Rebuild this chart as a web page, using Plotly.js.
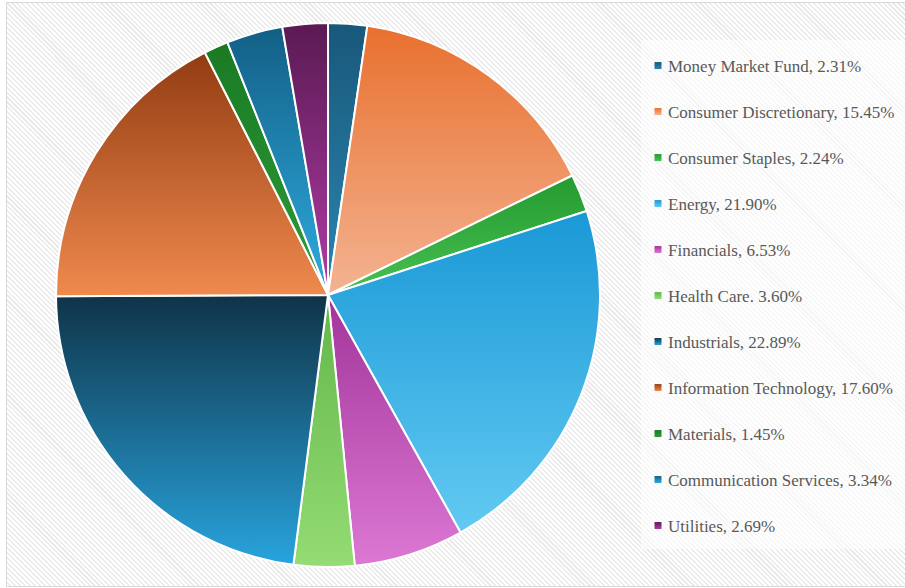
<!DOCTYPE html>
<html>
<head>
<meta charset="utf-8">
<script src="https://cdn.plot.ly/plotly-3.0.1.min.js"></script>
<style>
  html, body { margin: 0; padding: 0; background: #ffffff; }
  #frame {
    position: absolute; left: 0; top: 0; width: 905px; height: 588px;
    background: #ffffff;
  }
  #hatch {
    position: absolute; left: 6px; top: 2px; width: 899px; height: 583px;
    border-left: 1px solid #d9d9d9; border-top: 1px solid #d9d9d9; border-bottom: 1px solid #d9d9d9;
    background: repeating-linear-gradient(45deg, #ffffff 0px, #ffffff 2px, #ebebeb 2px, #ebebeb 3.5px);
  }
  #chart { position: absolute; left: 0; top: 0; width: 905px; height: 588px; }
</style>
</head>
<body>
<div id="frame"><div id="hatch"></div><div id="chart"></div></div>
<script>
const categories = ["Money Market Fund", "Consumer Discretionary", "Consumer Staples", "Energy",
  "Financials", "Health Care", "Industrials", "Information Technology", "Materials",
  "Communication Services", "Utilities"];
const values = [2.31, 15.45, 2.24, 21.90, 6.53, 3.60, 22.89, 17.60, 1.45, 3.34, 2.69];
const legendLabels = ["Money Market Fund, 2.31%", "Consumer Discretionary, 15.45%", "Consumer Staples, 2.24%",
  "Energy, 21.90%", "Financials, 6.53%", "Health Care. 3.60%", "Industrials, 22.89%",
  "Information Technology, 17.60%", "Materials, 1.45%", "Communication Services, 3.34%", "Utilities, 2.69%"];
const colorsTop = ["#18587a", "#e8702e", "#249a30", "#1a98d6", "#a2349a", "#62b64a", "#0f3347", "#923c12", "#1a7a24", "#135f86", "#5a1a52"];
const colorsBottom = ["#2c86b2", "#f4b392", "#48c052", "#62caf2", "#dc78d4", "#94dc74", "#28a4de", "#f08a4e", "#2e9c38", "#2eacdf", "#b03ca6"];
const colorsMid = ["#226f96", "#ee915f", "#36ad41", "#3eb1e4", "#c056b7", "#7bc95f", "#1c6c93", "#c16330", "#248b2e", "#2186b3", "#852b7c"];

const trace = {
  type: "pie",
  labels: legendLabels,
  values: values,
  customdata: categories,
  sort: false,
  direction: "clockwise",
  rotation: 0,
  textinfo: "none",
  hovertemplate: "%{customdata}: %{value}%<extra></extra>",
  marker: { colors: colorsMid, line: { color: "#ffffff", width: 2 } },
  domain: { x: [56 / 905, 600 / 905], y: [1 - 567 / 588, 1 - 23 / 588] }
};

const layout = {
  width: 905, height: 588,
  margin: { l: 0, r: 0, t: 0, b: 0, autoexpand: false },
  paper_bgcolor: "rgba(0,0,0,0)",
  plot_bgcolor: "rgba(0,0,0,0)",
  showlegend: true,
  legend: {
    x: 638 / 905, xanchor: "left",
    y: 1 - 48 / 588, yanchor: "top",
    bgcolor: "rgba(0,0,0,0)", borderwidth: 0,
    font: { family: "Liberation Serif, 'Times New Roman', serif", size: 17, color: "#595959" },
    traceorder: "normal"
  },
  shapes: [{
    type: "rect", xref: "paper", yref: "paper",
    x0: 641 / 905, x1: 1, y0: 1 - 549 / 588, y1: 1 - 40 / 588,
    fillcolor: "rgba(255,255,255,0.55)", line: { width: 0 }, layer: "below"
  }]
};

Plotly.newPlot("chart", [trace], layout, { displayModeBar: false, staticPlot: true }).then(function (gd) {
  const svg = gd.querySelector("svg.main-svg");
  const NS = "http://www.w3.org/2000/svg";
  const defs = document.createElementNS(NS, "defs");
  for (let i = 0; i < categories.length; i++) {
    const g = document.createElementNS(NS, "linearGradient");
    g.setAttribute("id", "sg" + i);
    g.setAttribute("x1", "0"); g.setAttribute("y1", "0");
    g.setAttribute("x2", "0"); g.setAttribute("y2", "1");
    const s1 = document.createElementNS(NS, "stop");
    s1.setAttribute("offset", "0"); s1.setAttribute("stop-color", colorsTop[i]);
    const s2 = document.createElementNS(NS, "stop");
    s2.setAttribute("offset", "1"); s2.setAttribute("stop-color", colorsBottom[i]);
    g.appendChild(s1); g.appendChild(s2);
    defs.appendChild(g);
  }
  svg.insertBefore(defs, svg.firstChild);

  gd.querySelectorAll(".slice path.surface").forEach(function (p, i) {
    p.style.fill = "url(#sg" + i + ")";
  });

  const legend = gd.querySelector(".legend");
  const scroll = legend.querySelector(".scrollbox");
  if (scroll) scroll.removeAttribute("clip-path");
  const items = legend.querySelectorAll(".traces");
  let x0 = 0, y0 = 0;
  if (items.length) {
    const m = /translate\(([-\d.]+)[ ,]+([-\d.]+)\)/.exec(items[0].getAttribute("transform") || "");
    if (m) { x0 = parseFloat(m[1]); y0 = parseFloat(m[2]); }
  }
  items.forEach(function (it, i) {
    it.setAttribute("transform", "translate(" + x0 + "," + (y0 + i * 46) + ")");
    const pt = it.querySelector(".legendpoints path");
    if (pt) {
      pt.setAttribute("d", "M3.5,3.5H-3.5V-3.5H3.5Z");
      pt.style.fill = "url(#sg" + i + ")";
      pt.style.strokeWidth = "0";
    }
    const tx = it.querySelector("text.legendtext");
    if (tx) {
      tx.setAttribute("x", "30");
      tx.querySelectorAll("tspan").forEach(function (ts) { if (ts.getAttribute("x")) ts.setAttribute("x", "30"); });
    }
  });
});
</script>
</body>
</html>
